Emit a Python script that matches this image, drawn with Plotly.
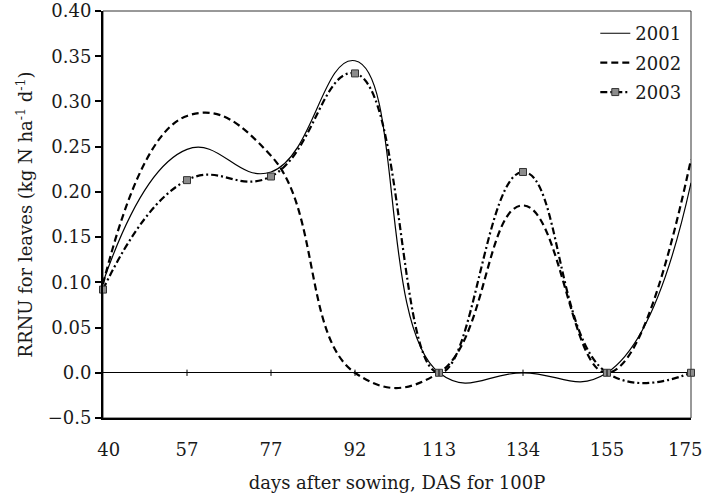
import plotly.graph_objects as go

categories = ["40", "57", "77", "92", "113", "134", "155", "175"]
y2001 = [0.100, 0.247, 0.222, 0.345, 0.0, 0.0, 0.0, 0.210]
y2002 = [0.098, 0.284, 0.240, 0.0, 0.0, 0.185, 0.0, 0.236]
y2003 = [0.092, 0.213, 0.217, 0.331, 0.0, 0.222, 0.0, 0.0]

ytickvals = [-0.05, 0.0, 0.05, 0.10, 0.15, 0.20, 0.25, 0.30, 0.35, 0.40]
yticktext = ["\u22120.5", "0.0", "0.05", "0.10", "0.15", "0.20", "0.25", "0.30", "0.35", "0.40"]

FONT = "DejaVu Serif"
FS = 18
xs = list(range(len(categories)))
SM = 1.3

# keep the edge labels inside the picture (nudged inward as in the reference)
NB = "\u00a0\u00a0"
xticktext = [NB + categories[0]] + categories[1:-1] + [categories[-1] + NB]

fig = go.Figure()
fig.add_trace(go.Scatter(x=xs, y=y2001, name="2001", mode="lines",
                         line=dict(color="black", width=1.2, shape="spline", smoothing=SM),
                         legendgroup="a", cliponaxis=False))
fig.add_trace(go.Scatter(x=xs, y=y2002, name="2002", mode="lines",
                         line=dict(color="black", width=2.2, shape="spline", smoothing=SM, dash="7px,4px"),
                         legendgroup="b", cliponaxis=False))
fig.add_trace(go.Scatter(x=xs, y=y2003, name="2003", mode="lines+markers",
                         line=dict(color="black", width=2.2, shape="spline", smoothing=SM, dash="7px,3px,2px,3px"),
                         marker=dict(symbol="square", size=7, color="#8c8c8c",
                                     line=dict(color="#333333", width=1)),
                         legendgroup="c", cliponaxis=False))

shapes = [dict(type="rect", xref="paper", yref="paper", x0=0, x1=1, y0=0, y1=1,
               line=dict(color="#333333", width=1), layer="below")]
for i in xs[1:]:
    shapes.append(dict(type="line", xref="x", yref="y", x0=i, x1=i, y0=-0.0035, y1=0.0035,
                       line=dict(color="black", width=1)))

fig.update_layout(
    width=706, height=499,
    margin=dict(l=103, r=15, t=11, b=81),
    paper_bgcolor="white", plot_bgcolor="white",
    font=dict(family=FONT, size=FS, color="#1a1a1a"),
    showlegend=True,
    legend=dict(x=0.992, y=0.99, xanchor="right", yanchor="top",
                bgcolor="rgba(0,0,0,0)", traceorder="grouped", tracegroupgap=3,
                font=dict(family=FONT, size=FS)),
    shapes=shapes,
    xaxis=dict(tickmode="array", tickvals=xs, ticktext=xticktext, range=[0, 7],
               automargin=False, ticklabeloverflow="allow",
               showgrid=False, zeroline=False, showline=True, linecolor="black", linewidth=2,
               ticks="", ticklabelstandoff=14,
               title=dict(text="days after sowing, DAS for 100P", standoff=18,
                          font=dict(family=FONT, size=FS))),
    yaxis=dict(range=[-0.05, 0.40], tickmode="array", tickvals=ytickvals, ticktext=yticktext,
               automargin=False, ticklabeloverflow="allow",
               showgrid=False, zeroline=True, zerolinecolor="black", zerolinewidth=1,
               showline=True, linecolor="black", linewidth=2,
               ticks="outside", ticklen=6, tickwidth=1.5, tickcolor="black",
               title=dict(text="RRNU for leaves (kg N ha<sup>-1</sup> d<sup>-1</sup>)", standoff=10,
                          font=dict(family=FONT, size=FS))),
)

fig.write_html("out.html", config={"displayModeBar": False},
               post_script="document.body.style.margin='0';")
